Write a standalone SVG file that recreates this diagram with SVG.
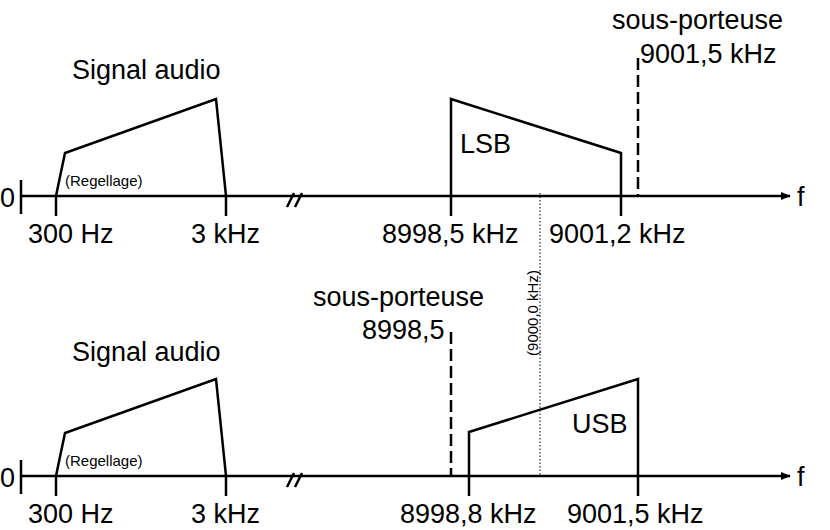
<svg xmlns="http://www.w3.org/2000/svg" width="830" height="530" viewBox="0 0 830 530">
<defs>
<style>
text{font-family:"Liberation Sans",Arial,sans-serif;fill:#000}
.l{font-size:27px}
.s{font-size:15px}
.ln{stroke:#000;stroke-width:2.5;fill:none}
.d{stroke:#000;stroke-width:2.5;stroke-dasharray:12,5;fill:none}
</style>
<marker id="a" markerWidth="10" markerHeight="8" refX="9" refY="4" orient="auto" markerUnits="userSpaceOnUse"><path d="M0,0L10,4L0,8z"/></marker>
</defs>
<rect width="830" height="530" fill="#fff"/>
<g id="top">
<line class="ln" x1="20" y1="196" x2="790" y2="196" marker-end="url(#a)"/>
<line class="ln" x1="21" y1="180" x2="21" y2="214"/>
<line class="ln" x1="56" y1="196" x2="56" y2="216"/>
<line class="ln" x1="226" y1="196" x2="226" y2="216"/>
<line class="ln" x1="451" y1="196" x2="451" y2="216"/>
<line class="ln" x1="621" y1="196" x2="621" y2="216"/>
<path class="ln" d="M287,207L294,193M295,207L302,193" stroke-width="2"/>
<path class="ln" d="M56,196L65,153L216,99L226,196"/>
<path class="ln" d="M451,196L451,99L621,153L621,196"/>
<line class="d" x1="638" y1="58" x2="638" y2="196"/>
<text class="l" x="0" y="207">0</text>
<text class="l" x="797" y="206">f</text>
<text class="l" x="72" y="79">Signal audio</text>
<text class="s" x="65" y="186">(Regellage)</text>
<text class="l" x="460" y="153">LSB</text>
<text class="l" x="612" y="29">sous-porteuse</text>
<text class="l" x="640" y="63">9001,5 kHz</text>
<text class="l" x="28" y="243">300 Hz</text>
<text class="l" x="191" y="243">3 kHz</text>
<text class="l" x="382" y="243">8998,5 kHz</text>
<text class="l" x="549" y="243">9001,2 kHz</text>
</g>
<g id="mid">
<line x1="540" y1="193" x2="540" y2="476" stroke="#000" stroke-width="1" stroke-dasharray="1.5,2"/>
<text font-size="15" transform="translate(538,313) rotate(-90)" text-anchor="middle">(9000,0 kHz)</text>
</g>
<g id="bottom">
<line class="ln" x1="20" y1="476" x2="790" y2="476" marker-end="url(#a)"/>
<line class="ln" x1="21" y1="460" x2="21" y2="494"/>
<line class="ln" x1="56" y1="476" x2="56" y2="496"/>
<line class="ln" x1="226" y1="476" x2="226" y2="496"/>
<line class="ln" x1="469" y1="476" x2="469" y2="496"/>
<line class="ln" x1="638" y1="476" x2="638" y2="496"/>
<path class="ln" d="M287,487L294,473M295,487L302,473" stroke-width="2"/>
<path class="ln" d="M56,476L65,433L216,379L226,476"/>
<path class="ln" d="M469,476L469,432L638,379L638,476"/>
<line class="d" x1="451" y1="332" x2="451" y2="476"/>
<text class="l" x="0" y="487">0</text>
<text class="l" x="797" y="486">f</text>
<text class="l" x="72" y="361">Signal audio</text>
<text class="s" x="65" y="466">(Regellage)</text>
<text class="l" x="572" y="433">USB</text>
<text class="l" x="313" y="306">sous-porteuse</text>
<text class="l" x="362" y="339">8998,5</text>
<text class="l" x="28" y="523">300 Hz</text>
<text class="l" x="191" y="523">3 kHz</text>
<text class="l" x="400" y="523">8998,8 kHz</text>
<text class="l" x="567" y="523">9001,5 kHz</text>
</g>
</svg>
